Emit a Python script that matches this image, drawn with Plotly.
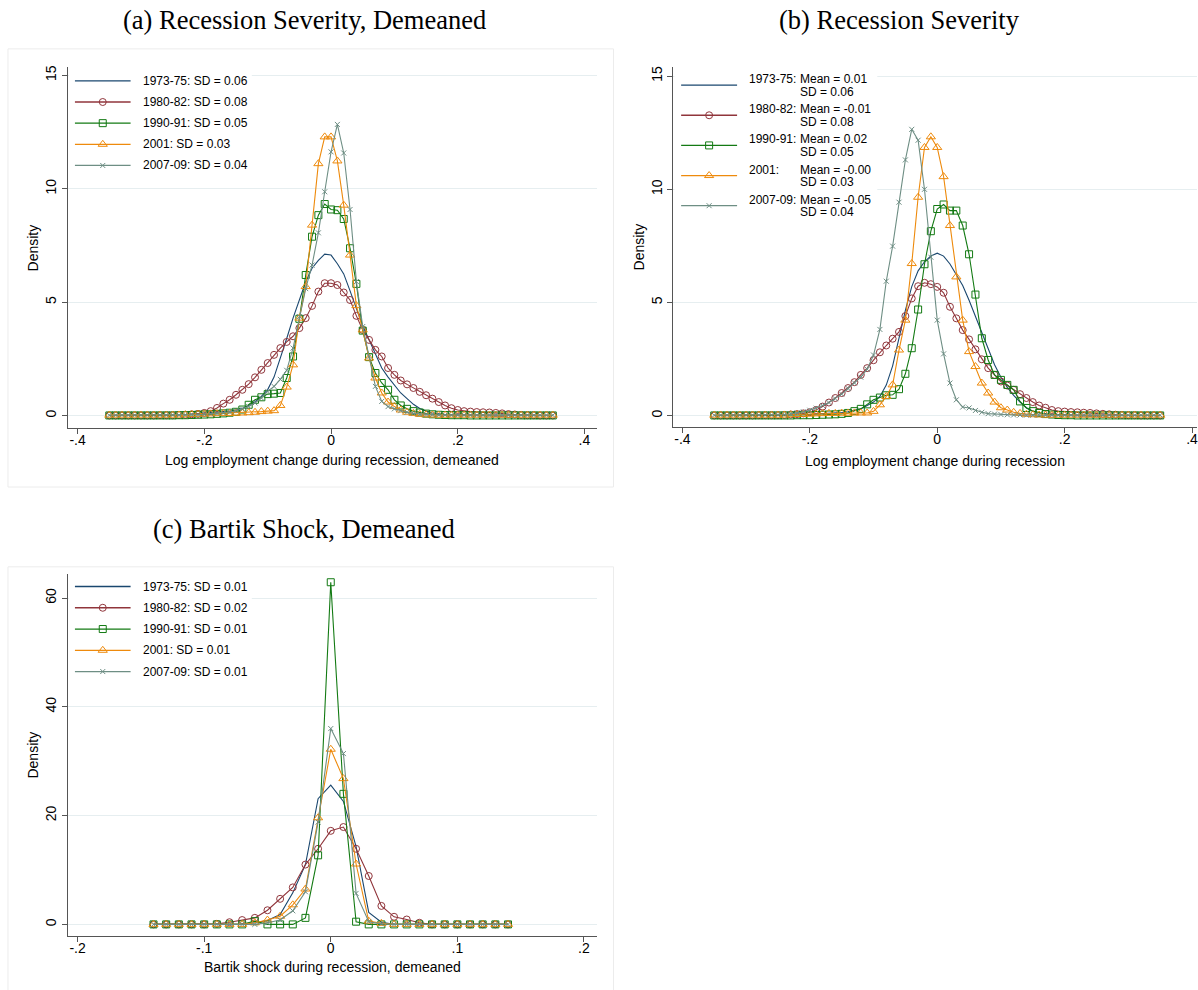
import plotly.graph_objects as go

W, H = 1198, 990

# ---------------- data ----------------
series = ["1973-75", "1980-82", "1990-91", "2001", "2007-09"]
sd_a = ["0.06", "0.08", "0.05", "0.03", "0.04"]
mean_b = ["0.01", "-0.01", "0.02", "-0.00", "-0.05"]
sd_b = ["0.06", "0.08", "0.05", "0.03", "0.04"]
sd_c = ["0.01", "0.02", "0.01", "0.01", "0.01"]

x_ab = [-0.35, -0.34, -0.33, -0.32, -0.31, -0.30, -0.29, -0.28, -0.27, -0.26,
        -0.25, -0.24, -0.23, -0.22, -0.21, -0.20, -0.19, -0.18, -0.17, -0.16,
        -0.15, -0.14, -0.13, -0.12, -0.11, -0.10, -0.09, -0.08, -0.07, -0.06,
        -0.05, -0.04, -0.03, -0.02, -0.01, 0.00, 0.01, 0.02, 0.03, 0.04,
        0.05, 0.06, 0.07, 0.08, 0.09, 0.10, 0.11, 0.12, 0.13, 0.14,
        0.15, 0.16, 0.17, 0.18, 0.19, 0.20, 0.21, 0.22, 0.23, 0.24,
        0.25, 0.26, 0.27, 0.28, 0.29, 0.30, 0.31, 0.32, 0.33, 0.34,
        0.35]

# (a) demeaned recession severity
a_1973_75 = [0.02, 0.02, 0.02, 0.02, 0.02, 0.02, 0.02, 0.02, 0.03, 0.03,
             0.03, 0.04, 0.05, 0.07, 0.09, 0.11, 0.13, 0.15, 0.17, 0.20,
             0.25, 0.33, 0.45, 0.62, 0.85, 1.15, 1.70, 2.50, 3.40, 4.30,
             5.10, 5.90, 6.50, 6.85, 7.12, 7.08, 6.70, 6.25, 5.50, 4.75,
             3.95, 3.35, 2.70, 2.10, 1.70, 1.35, 1.00, 0.75, 0.50, 0.32,
             0.20, 0.12, 0.08, 0.05, 0.04, 0.03, 0.02, 0.02, 0.02, 0.02,
             0.02, 0.02, 0.02, 0.02, 0.02, 0.02, 0.02, 0.02, 0.02, 0.02,
             0.02]
a_1980_82 = [0.01, 0.01, 0.01, 0.01, 0.01, 0.01, 0.01, 0.01, 0.02, 0.02,
             0.02, 0.03, 0.04, 0.06, 0.08, 0.12, 0.20, 0.34, 0.53, 0.70,
             0.92, 1.14, 1.39, 1.69, 2.02, 2.32, 2.68, 2.98, 3.25, 3.50,
             3.86, 4.30, 4.84, 5.47, 5.84, 5.84, 5.76, 5.43, 5.10, 4.40,
             3.78, 3.34, 2.90, 2.61, 2.10, 1.80, 1.55, 1.38, 1.22, 1.05,
             0.90, 0.75, 0.60, 0.45, 0.33, 0.25, 0.20, 0.18, 0.16, 0.15,
             0.14, 0.12, 0.10, 0.07, 0.05, 0.03, 0.02, 0.02, 0.01, 0.01,
             0.01]
a_1990_91 = [0.01, 0.01, 0.01, 0.01, 0.01, 0.01, 0.01, 0.01, 0.01, 0.01,
             0.01, 0.02, 0.02, 0.03, 0.04, 0.05, 0.06, 0.08, 0.10, 0.13,
             0.17, 0.27, 0.48, 0.70, 0.81, 0.95, 0.97, 1.00, 1.66, 2.61,
             4.27, 6.20, 7.89, 8.84, 9.33, 9.09, 9.06, 8.67, 7.38, 5.81,
             3.75, 2.58, 1.88, 1.44, 1.14, 0.70, 0.45, 0.30, 0.20, 0.14,
             0.09, 0.06, 0.04, 0.03, 0.02, 0.02, 0.02, 0.01, 0.01, 0.01,
             0.01, 0.01, 0.01, 0.01, 0.01, 0.01, 0.01, 0.01, 0.01, 0.01,
             0.01]
a_2001 = [0.02, 0.02, 0.02, 0.02, 0.02, 0.02, 0.02, 0.02, 0.02, 0.02,
          0.02, 0.03, 0.04, 0.05, 0.06, 0.07, 0.08, 0.09, 0.10, 0.10,
          0.11, 0.12, 0.13, 0.15, 0.18, 0.20, 0.22, 0.45, 1.26, 2.24,
          4.30, 5.69, 8.40, 11.11, 12.29, 12.29, 11.23, 9.28, 7.08, 4.85,
          3.78, 2.54, 1.66, 1.00, 0.60, 0.40, 0.25, 0.15, 0.10, 0.06,
          0.04, 0.03, 0.02, 0.02, 0.02, 0.02, 0.02, 0.02, 0.02, 0.02,
          0.02, 0.02, 0.02, 0.02, 0.02, 0.02, 0.02, 0.02, 0.02, 0.02,
          0.02]
a_2007_09 = [0.02, 0.02, 0.02, 0.02, 0.02, 0.02, 0.02, 0.02, 0.02, 0.02,
             0.03, 0.03, 0.04, 0.04, 0.05, 0.06, 0.08, 0.10, 0.12, 0.16,
             0.22, 0.30, 0.40, 0.56, 0.78, 1.07, 1.29, 1.60, 2.00, 2.98,
             4.37, 5.60, 6.64, 8.06, 9.87, 11.63, 12.84, 11.58, 9.09, 5.91,
             3.93, 2.61, 1.29, 0.63, 0.40, 0.30, 0.22, 0.15, 0.10, 0.07,
             0.05, 0.04, 0.03, 0.03, 0.02, 0.02, 0.02, 0.02, 0.02, 0.02,
             0.02, 0.02, 0.02, 0.02, 0.02, 0.02, 0.02, 0.02, 0.02, 0.02,
             0.02]

# (b) recession severity (not demeaned)
b_1973_75 = [0.02, 0.02, 0.02, 0.02, 0.02, 0.02, 0.02, 0.02, 0.02, 0.02,
             0.02, 0.03, 0.03, 0.04, 0.05, 0.06, 0.07, 0.08, 0.10, 0.12,
             0.14, 0.17, 0.22, 0.30, 0.45, 0.60, 0.85, 1.35, 2.20, 3.40,
             4.65, 5.70, 6.40, 6.80, 7.05, 7.18, 7.05, 6.70, 6.25, 5.75,
             5.10, 4.40, 3.70, 2.95, 2.25, 1.70, 1.25, 0.90, 0.60, 0.35,
             0.20, 0.12, 0.07, 0.05, 0.04, 0.03, 0.02, 0.02, 0.02, 0.02,
             0.02, 0.02, 0.02, 0.02, 0.02, 0.02, 0.02, 0.02, 0.02, 0.02,
             0.02]
b_1980_82 = [0.01, 0.01, 0.01, 0.01, 0.01, 0.01, 0.01, 0.02, 0.02, 0.02,
             0.02, 0.03, 0.05, 0.07, 0.10, 0.15, 0.25, 0.40, 0.58, 0.78,
             1.00, 1.22, 1.48, 1.80, 2.10, 2.45, 2.80, 3.10, 3.40, 3.70,
             4.40, 5.18, 5.72, 5.87, 5.81, 5.69, 5.43, 4.81, 4.30, 3.78,
             3.37, 2.93, 2.49, 2.10, 1.80, 1.51, 1.33, 1.14, 0.95, 0.78,
             0.60, 0.45, 0.35, 0.25, 0.20, 0.18, 0.16, 0.15, 0.13, 0.12,
             0.10, 0.08, 0.06, 0.04, 0.03, 0.02, 0.02, 0.01, 0.01, 0.01,
             0.01]
b_1990_91 = [0.01, 0.01, 0.01, 0.01, 0.01, 0.01, 0.01, 0.01, 0.01, 0.01,
             0.01, 0.01, 0.01, 0.02, 0.02, 0.02, 0.03, 0.04, 0.05, 0.06,
             0.08, 0.12, 0.20, 0.30, 0.50, 0.70, 0.80, 0.90, 0.92, 1.17,
             1.85, 2.98, 4.69, 6.69, 8.15, 9.13, 9.33, 9.06, 9.06, 8.40,
             7.13, 5.35, 3.42, 2.46, 1.80, 1.58, 1.36, 1.14, 0.63, 0.34,
             0.20, 0.12, 0.07, 0.05, 0.03, 0.02, 0.02, 0.01, 0.01, 0.01,
             0.01, 0.01, 0.01, 0.01, 0.01, 0.01, 0.01, 0.01, 0.01, 0.01,
             0.01]
b_2001 = [0.02, 0.02, 0.02, 0.02, 0.02, 0.02, 0.02, 0.02, 0.02, 0.02,
          0.02, 0.03, 0.04, 0.05, 0.06, 0.07, 0.08, 0.09, 0.10, 0.10,
          0.11, 0.11, 0.12, 0.12, 0.12, 0.19, 0.48, 0.85, 1.36, 2.90,
          4.22, 6.72, 9.65, 11.85, 12.32, 11.85, 10.56, 8.40, 6.13, 4.22,
          2.83, 2.17, 1.44, 1.00, 0.60, 0.35, 0.25, 0.15, 0.10, 0.06,
          0.04, 0.03, 0.02, 0.02, 0.02, 0.02, 0.02, 0.02, 0.02, 0.02,
          0.02, 0.02, 0.02, 0.02, 0.02, 0.02, 0.02, 0.02, 0.02, 0.02,
          0.02]
b_2007_09 = [0.02, 0.02, 0.02, 0.02, 0.02, 0.02, 0.02, 0.03, 0.03, 0.03,
             0.04, 0.05, 0.08, 0.12, 0.17, 0.24, 0.33, 0.45, 0.58, 0.75,
             0.95, 1.20, 1.45, 1.70, 2.05, 2.68, 3.81, 5.94, 7.49, 9.43,
             11.30, 12.65, 12.17, 10.00, 7.00, 4.22, 2.73, 1.44, 0.70, 0.38,
             0.34, 0.23, 0.15, 0.09, 0.07, 0.05, 0.04, 0.03, 0.03, 0.02,
             0.02, 0.02, 0.02, 0.02, 0.02, 0.02, 0.02, 0.02, 0.02, 0.02,
             0.02, 0.02, 0.02, 0.02, 0.02, 0.02, 0.02, 0.02, 0.02, 0.02,
             0.02]

# (c) Bartik shock, demeaned
x_c = [-0.14, -0.13, -0.12, -0.11, -0.10, -0.09, -0.08, -0.07, -0.06, -0.05,
       -0.04, -0.03, -0.02, -0.01, 0.00, 0.01, 0.02, 0.03, 0.04, 0.05,
       0.06, 0.07, 0.08, 0.09, 0.10, 0.11, 0.12, 0.13, 0.14]
c_1973_75 = [0, 0, 0, 0, 0, 0, 0, 0, 0.3, 0.7,
             1.8, 5.8, 11.0, 23.1, 25.6, 22.6, 14.3, 2.2, 0.4, 0,
             0, 0, 0, 0, 0, 0, 0, 0, 0]
c_1980_82 = [0, 0, 0, 0, 0, 0.1, 0.4, 0.8, 1.2, 2.6,
             4.7, 6.8, 11.0, 13.9, 17.2, 17.9, 13.9, 8.9, 3.4, 1.4,
             0.9, 0.3, 0, 0, 0, 0, 0, 0, 0]
c_1990_91 = [0, 0, 0, 0, 0, 0, 0, 0, 0.6, 0,
             0, 0, 1.2, 12.7, 62.9, 24.0, 0.5, 0, 0, 0,
             0, 0, 0, 0, 0, 0, 0, 0, 0]
c_2001 = [0, 0, 0, 0, 0, 0, 0, 0, 0.3, 0.8,
          1.5, 3.6, 6.5, 19.6, 32.2, 26.8, 11.1, 0.6, 0.2, 0,
          0, 0, 0, 0, 0, 0, 0, 0, 0]
c_2007_09 = [0, 0, 0, 0, 0, 0, 0, 0, 0, 0.3,
             0.8, 2.5, 6.0, 18.8, 36.0, 31.4, 5.7, 0.5, 0.1, 0,
             0, 0, 0, 0, 0, 0, 0, 0, 0]

data_a = [a_1973_75, a_1980_82, a_1990_91, a_2001, a_2007_09]
data_b = [b_1973_75, b_1980_82, b_1990_91, b_2001, b_2007_09]
data_c = [c_1973_75, c_1980_82, c_1990_91, c_2001, c_2007_09]

ticks_ab = [-0.4, -0.2, 0, 0.2, 0.4]
ticktext_ab = ["-.4", "-.2", "0", ".2", ".4"]
ticks_c = [-0.2, -0.1, 0, 0.1, 0.2]
ticktext_c = ["-.2", "-.1", "0", ".1", ".2"]
yticks_ab = [0, 5, 10, 15]
yticks_c = [0, 20, 40, 60]

# ---------------- style ----------------
colors = ["#1a476f", "#90353b", "#137a13", "#ee8a0c", "#6e8e84"]
symbols = [None, "circle-open", "square-open", "triangle-up-open", "x-thin-open"]
msizes = [0, 7, 7, 8, 5]
SANS = "Liberation Sans, Arial, Helvetica, sans-serif"
SERIF = "Liberation Serif, Times New Roman, serif"
AXC = "#555555"
GRIDC = "#e6eef0"


def fx(p):
    return p / W


def fy(p):
    return 1 - p / H


fig = go.Figure()


def add_series(xv, ys, xa, ya):
    for i, yv in enumerate(ys):
        if symbols[i] is None:
            fig.add_trace(go.Scatter(x=xv, y=yv, mode="lines", xaxis=xa, yaxis=ya,
                                     line=dict(color=colors[i], width=1.1),
                                     showlegend=False, hoverinfo="skip"))
        else:
            fig.add_trace(go.Scatter(x=xv, y=yv, mode="lines+markers", xaxis=xa, yaxis=ya,
                                     line=dict(color=colors[i], width=1.1),
                                     marker=dict(symbol=symbols[i], size=msizes[i], color=colors[i],
                                                 line=dict(color=colors[i], width=1)),
                                     showlegend=False, hoverinfo="skip"))


add_series(x_ab, data_a, "x", "y")
add_series(x_ab, data_b, "x2", "y2")
add_series(x_c, data_c, "x3", "y3")

# panel geometry (pixels)
PA = dict(x0=68, x1=597, y0=65, y1=427, xr=[-0.4153, 0.419], yr=[-0.55, 15.377])
PB = dict(x0=674, x1=1198, y0=65, y1=426, xr=[-0.4141, 0.4078], yr=[-0.507, 15.41])
PC = dict(x0=68, x1=597, y0=572.7, y1=935.5, xr=[-0.2076, 0.2099], yr=[-2.06, 64.5])


def xaxis_cfg(P, tv, tt, anchor):
    return dict(domain=[fx(P["x0"]), fx(P["x1"])], range=P["xr"], anchor=anchor,
                tickvals=tv, ticktext=tt, showline=True, linecolor=AXC, linewidth=1.2,
                ticks="outside", ticklen=5, tickcolor=AXC, tickwidth=1,
                showgrid=False, zeroline=False, ticklabelstandoff=-6,
                ticklabeloverflow="allow",
                tickfont=dict(family=SANS, size=14, color="black"))


def yaxis_cfg(P, tv, anchor):
    return dict(domain=[fy(P["y1"]), fy(P["y0"])], range=P["yr"], anchor=anchor,
                tickvals=tv, ticktext=[str(v) for v in tv], showline=True, linecolor=AXC,
                linewidth=1.2, ticks="outside", ticklen=5, tickcolor=AXC, tickwidth=1,
                showgrid=True, gridcolor=GRIDC, gridwidth=1, zeroline=False, tickangle=-90,
                tickfont=dict(family=SANS, size=14, color="black"))


fig.update_layout(
    width=W, height=H, margin=dict(l=0, r=0, t=0, b=0),
    paper_bgcolor="white", plot_bgcolor="rgba(0,0,0,0)", showlegend=False,
    xaxis=xaxis_cfg(PA, ticks_ab, ticktext_ab, "y"),
    yaxis=yaxis_cfg(PA, yticks_ab, "x"),
    xaxis2=xaxis_cfg(PB, ticks_ab, ticktext_ab, "y2"),
    yaxis2=yaxis_cfg(PB, yticks_ab, "x2"),
    xaxis3=xaxis_cfg(PC, ticks_c, ticktext_c, "y3"),
    yaxis3=yaxis_cfg(PC, yticks_c, "x3"),
    xaxis4=dict(domain=[0, 1], range=[0, W], anchor="y4", visible=False, fixedrange=True),
    yaxis4=dict(domain=[0, 1], range=[H, 0], anchor="x4", visible=False, fixedrange=True),
)

shapes = []
# outer frames of panels (a) and (c)
for (x0, y0, x1, y1) in [(8, 47, 614, 486), (8, 566, 614, 995)]:
    shapes.append(dict(type="rect", xref="paper", yref="paper",
                       x0=fx(x0), x1=fx(x1), y0=fy(y1), y1=fy(y0),
                       line=dict(color="#ececec", width=1), fillcolor="rgba(0,0,0,0)",
                       layer="below"))
fig.update_layout(shapes=shapes)

annotations = []
# panel titles
for txt, cx, cy in [("(a) Recession Severity, Demeaned", 305, 18),
                    ("(b) Recession Severity", 900, 18),
                    ("(c) Bartik Shock, Demeaned", 304, 528)]:
    annotations.append(dict(text=txt, x=fx(cx), y=fy(cy), xref="paper", yref="paper",
                            xanchor="center", yanchor="middle", showarrow=False,
                            font=dict(family=SERIF, size=26.5, color="black")))
# axis titles
for txt, P, ty in [("Log employment change during recession, demeaned", PA, 459),
                   ("Log employment change during recession", PB, 460),
                   ("Bartik shock during recession, demeaned", PC, 967)]:
    annotations.append(dict(text=txt, x=fx((P["x0"] + P["x1"]) / 2),
                            y=fy(ty), xref="paper", yref="paper",
                            xanchor="center", yanchor="middle", showarrow=False,
                            font=dict(family=SANS, size=14, color="black")))
for P, tx in [(PA, 33), (PB, 640), (PC, 33)]:
    annotations.append(dict(text="Density", x=fx(tx), y=fy((P["y0"] + P["y1"]) / 2),
                            xref="paper", yref="paper", textangle=-90,
                            xanchor="center", yanchor="middle", showarrow=False,
                            font=dict(family=SANS, size=14, color="black")))

# ---------------- legends (drawn on an invisible pixel overlay) ----------------
LEG_FONT = dict(family=SANS, size=12, color="black")

# white legend backgrounds that hide the gridlines behind the keys
for (bx0, by0, bx1, by1) in [(69, 66, 252, 180), (675, 66, 878, 222), (69, 574, 252, 686)]:
    fig.add_trace(go.Scatter(x=[bx0, bx1, bx1, bx0, bx0], y=[by0, by0, by1, by1, by0],
                             mode="lines", fill="toself", fillcolor="white",
                             line=dict(width=0, color="white"), xaxis="x4", yaxis="y4",
                             showlegend=False, hoverinfo="skip"))


def legend_glyph(lx0, lx1, ly, i):
    fig.add_trace(go.Scatter(x=[lx0, lx1], y=[ly, ly], mode="lines", xaxis="x4", yaxis="y4",
                             line=dict(color=colors[i], width=1.3),
                             showlegend=False, hoverinfo="skip"))
    if symbols[i] is not None:
        fig.add_trace(go.Scatter(x=[(lx0 + lx1) / 2], y=[ly], mode="markers", xaxis="x4", yaxis="y4",
                                 marker=dict(symbol=symbols[i], size=msizes[i], color=colors[i],
                                             line=dict(color=colors[i], width=1)),
                                 showlegend=False, hoverinfo="skip"))


# (a)
for i, name in enumerate(series):
    ly = 79 + i * 21.2
    legend_glyph(75, 130.7, ly, i)
    annotations.append(dict(text=f"{name}: SD = {sd_a[i]}", x=fx(140.7), y=fy(ly),
                            xref="paper", yref="paper", xanchor="left", yanchor="middle",
                            showarrow=False, font=LEG_FONT))
# (b)
for i, name in enumerate(series):
    ly = 83.3 + i * 30.2
    legend_glyph(681.7, 737.7, ly, i)
    annotations.append(dict(text=f"{name}:", x=fx(747.7), y=fy(ly - 6),
                            xref="paper", yref="paper", xanchor="left", yanchor="middle",
                            showarrow=False, font=LEG_FONT))
    annotations.append(dict(text=f"Mean = {mean_b[i]}", x=fx(798.3), y=fy(ly - 6),
                            xref="paper", yref="paper", xanchor="left", yanchor="middle",
                            showarrow=False, font=LEG_FONT))
    annotations.append(dict(text=f"SD = {sd_b[i]}", x=fx(798.3), y=fy(ly + 6.5),
                            xref="paper", yref="paper", xanchor="left", yanchor="middle",
                            showarrow=False, font=LEG_FONT))
# (c)
for i, name in enumerate(series):
    ly = 585.7 + i * 21.3
    legend_glyph(75, 130.7, ly, i)
    annotations.append(dict(text=f"{name}: SD = {sd_c[i]}", x=fx(140.7), y=fy(ly),
                            xref="paper", yref="paper", xanchor="left", yanchor="middle",
                            showarrow=False, font=LEG_FONT))

fig.update_layout(annotations=annotations)
fig.write_html("out.html")
